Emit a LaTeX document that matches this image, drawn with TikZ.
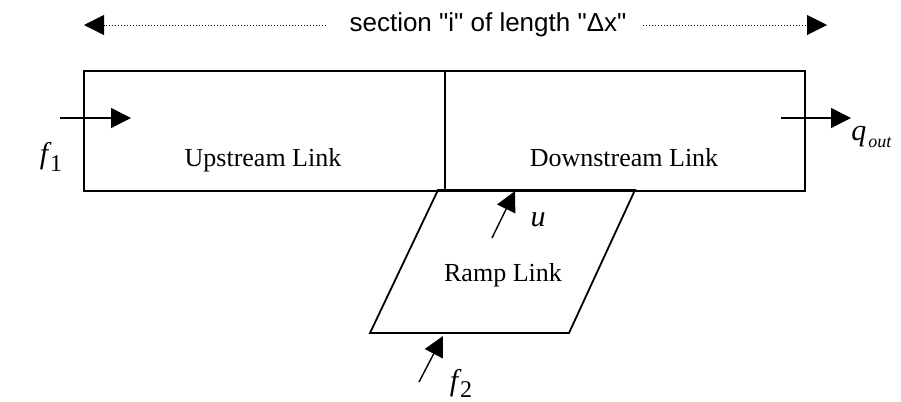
\documentclass[tikz,border=0pt]{standalone}
\usepackage{fontspec}
\setmainfont{Liberation Serif}
\setsansfont{Liberation Sans}
\usetikzlibrary{arrows.meta}

\begin{document}
\begin{tikzpicture}[x=0.5pt,y=-0.5pt,>={Triangle[length=10pt,width=10pt]},
  link/.style={draw,line width=0.9pt,minimum height=60pt,inner sep=0pt,anchor=north west},
  lbl/.style={font=\fontsize{13}{15}\selectfont},
  var/.style={font=\fontsize{15}{17}\selectfont\itshape,inner sep=0pt},
  flow/.style={->,line width=0.7pt},
  spanline/.style={->,dash pattern=on 0.5pt off 1pt,line width=0.5pt}]
\useasboundingbox (0,0) rectangle (901,402);
% section with its two links
\node[link,minimum width=180.5pt] (up) at (83,70) {};
\node[link,minimum width=180pt] (down) at (444,70) {};
\node[lbl,anchor=base] (uptxt) at (263,166) {Upstream Link};
\node[lbl,anchor=base] (downtxt) at (624,166) {Downstream Link};
% ramp
\coordinate (r1) at (438,190);
\coordinate (r2) at (635,190);
\coordinate (r3) at (569,333);
\coordinate (r4) at (370,333);
\draw[line width=0.9pt] (r1) -- (r2) -- (r3) -- (r4) -- cycle;
\node[lbl,anchor=base] (ramptxt) at (503,281) {Ramp Link};
% length of the section
\node[font=\sffamily\fontsize{13}{15}\selectfont,inner sep=0pt] (sec) at (488,25)
  {section \textquotedbl i\textquotedbl{} of length \textquotedbl Δx\textquotedbl};
\coordinate (secL) at (84,25);
\coordinate (secR) at (827,25);
\draw[spanline] ([xshift=-11.5pt]sec.west) -- (secL);
\draw[spanline] ([xshift=8pt]sec.east) -- (secR);
% flows
\coordinate (f1s) at (60,118);
\coordinate (f1e) at (131,118);
\coordinate (qs) at (781,118);
\coordinate (qe) at (851,118);
\coordinate (us) at (492,238);
\coordinate (ue) at (515,191);
\coordinate (f2s) at (419,382);
\coordinate (f2e) at (443,336);
\draw[flow] (f1s) -- (f1e);
\draw[flow] (qs) -- (qe);
\draw[flow] (us) -- (ue);
\draw[flow] (f2s) -- (f2e);
\node[var] (f1) at (51,157) {f\kern1pt\raisebox{-4pt}{\upshape\fontsize{12}{12}\selectfont 1}};
\node[var,anchor=west] (qout) at (851,137) {q\kern1pt\raisebox{-3.5pt}{\fontsize{9}{9}\selectfont out}};
\node[var] (u) at (538,220) {u};
\node[var] (f2) at (461,383) {f\kern1pt\raisebox{-3.5pt}{\upshape\fontsize{12}{12}\selectfont 2}};
\end{tikzpicture}
\end{document}
